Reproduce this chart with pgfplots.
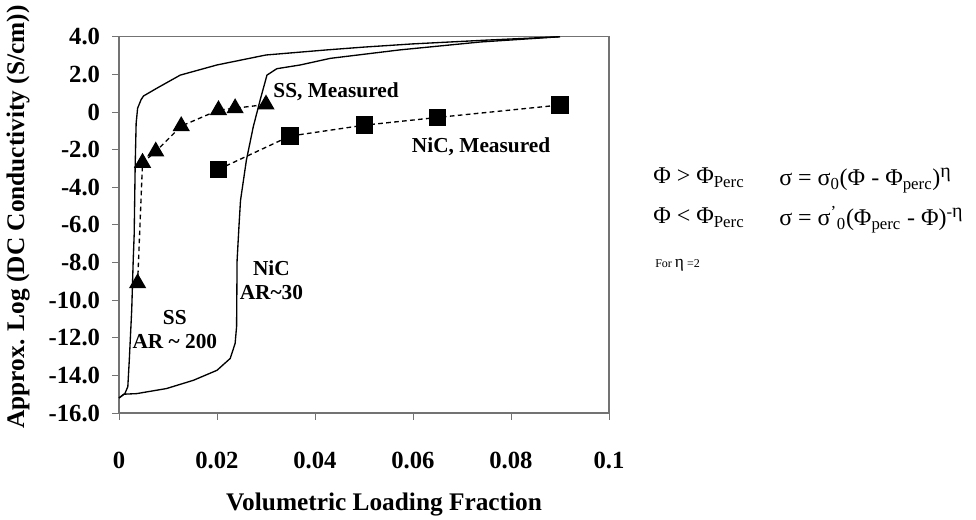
\documentclass[border=0pt]{standalone}
\usepackage{fontspec}
\setmainfont{Liberation Serif}
\usepackage{pgfplots}
\pgfplotsset{compat=1.18}
\begin{document}
\begin{tikzpicture}
\useasboundingbox (-89.25pt,-79.5pt) rectangle (642.75pt,309.75pt);
\begin{axis}[
  at={(0,0)}, anchor=south west, scale only axis,
  width=367.5pt, height=282.2pt,
  xmin=0, xmax=0.1, ymin=-16, ymax=4,
  xtick={0,0.02,0.04,0.06,0.08,0.1},
  xticklabels={0,0.02,0.04,0.06,0.08,0.1},
  ytick={-16,-14,-12,-10,-8,-6,-4,-2,0,2,4},
  yticklabels={-16.0,-14.0,-12.0,-10.0,-8.0,-6.0,-4.0,-2.0,0,2.0,4.0},
  tick align=outside, xtick pos=bottom, ytick pos=left,
  major tick length=5pt,
  axis line style={black!55, line width=0.8pt},
  tick style={black!55, line width=0.6pt},
  ticklabel style={font=\fontsize{18.5}{20}\selectfont\bfseries, inner sep=0pt},
  xticklabel style={anchor=base, yshift=-36.75pt},
  yticklabel style={anchor=east, xshift=-9pt},
  xlabel={Volumetric Loading Fraction},
  ylabel={Approx. Log (DC Conductivity (S/cm))},
  label style={font=\fontsize{19}{21}\selectfont\bfseries},
  xlabel style={at={(axis description cs:0.541,-0.2445)}, anchor=center},
  ylabel style={at={(axis description cs:-0.206,0.521)}, anchor=center},
  clip=false,
]
% SS, AR ~ 200 (model curve)
\addplot[black, line width=1pt, mark=none] coordinates {
 (0,-15.2) (0.0012,-14.97) (0.0018,-14.6) (0.0021,-13.2) (0.0026,-10.5)
 (0.0029,-7.9) (0.0031,-6.5) (0.0033,-2.9) (0.0035,-0.6) (0.0038,0.2)
 (0.0045,0.65) (0.005,0.85) (0.0077,1.26) (0.0125,1.96) (0.02,2.5)
 (0.03,3.03) (0.0424,3.3) (0.05,3.45) (0.06,3.62) (0.075,3.82) (0.09,4.0)
};
% NiC, AR ~ 30 (model curve)
\addplot[black, line width=1pt, mark=none] coordinates {
 (0,-15.2) (0.001,-15.0) (0.0036,-14.97) (0.0097,-14.7) (0.0152,-14.26)
 (0.02,-13.73) (0.0227,-13.1) (0.0237,-12.3) (0.024,-11.4) (0.0241,-7.9)
 (0.0245,-6.0) (0.0248,-4.7) (0.026,-2.56) (0.0274,-0.79) (0.0288,0.63)
 (0.0302,1.96) (0.0322,2.3) (0.037,2.5) (0.0431,2.85) (0.0573,3.3)
 (0.0737,3.72) (0.09,4.0)
};
% SS, Measured
\addplot[black, line width=1pt, dash pattern=on 3.5pt off 2.5pt,
  mark=triangle*, mark size=6.5pt, mark options={solid, fill=black}] coordinates {
 (0.0038,-9.1) (0.0048,-2.7) (0.0075,-2.1) (0.0127,-0.75)
 (0.0203,0.1) (0.0237,0.2) (0.030,0.4)
};
% NiC, Measured
\addplot[black, line width=1pt, dash pattern=on 3.5pt off 2.5pt,
  mark=square*, mark size=6pt, mark options={solid, fill=black}] coordinates {
 (0.0203,-3.05) (0.0349,-1.28) (0.0501,-0.70) (0.065,-0.29) (0.09,0.37)
};
\begin{scope}[every node/.style={font=\fontsize{16}{19}\selectfont\bfseries, align=center, inner sep=0pt}]
\node at (axis cs:0.0443,1.07) {SS, Measured};
\node at (axis cs:0.0739,-1.87) {NiC, Measured};
\node at (axis cs:0.0311,-8.95) {NiC\\[-1pt]AR\textasciitilde 30};
\node at (axis cs:0.0114,-11.55) {SS\\[-1pt]AR \textasciitilde{} 200};
\end{scope}
\end{axis}
\begin{scope}[every node/.style={font=\fontsize{18}{21}\selectfont, inner sep=0pt, anchor=base west}]
\node at (400.5pt,172pt) {Φ > Φ\textsubscript{Perc}};
\node at (495pt,170.5pt) {σ = σ\textsubscript{0}(Φ - Φ\textsubscript{perc})\textsuperscript{\fontsize{15}{16}\selectfont η}};
\node at (400.5pt,142pt) {Φ < Φ\textsubscript{Perc}};
\node at (495pt,140.5pt) {σ = σ\textsuperscript{'}\textsubscript{0}(Φ\textsubscript{perc} - Φ)\textsuperscript{-\fontsize{15}{16}\selectfont η}};
\node[font=\fontsize{9}{10}\selectfont] at (402pt,109.5pt) {For {\fontsize{13}{14}\selectfont η} =2};
\end{scope}
\end{tikzpicture}
\end{document}
